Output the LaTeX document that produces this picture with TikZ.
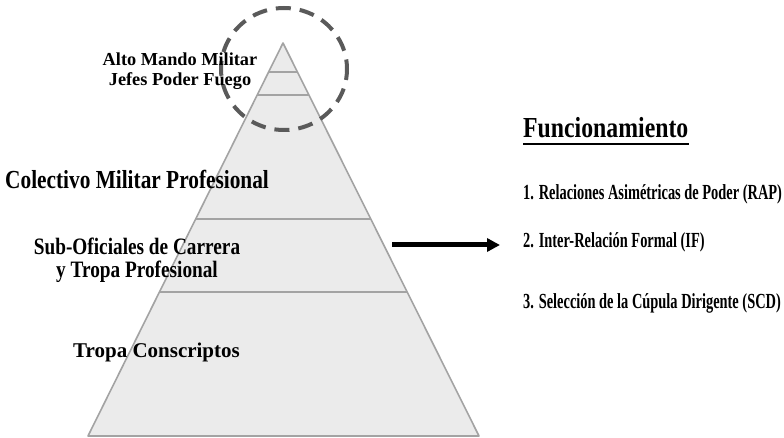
\documentclass[tikz,border=0pt]{standalone}
\usepackage{fontspec}
\setmainfont{Liberation Serif}
\newfontfamily\narrowfont{Liberation Serif}[FakeStretch=0.82]
\newfontfamily\listfont{Liberation Serif}[FakeStretch=0.67]
\usetikzlibrary{calc,arrows.meta}

\definecolor{pyrfill}{HTML}{EBEBEB}
\definecolor{pyrline}{HTML}{A3A3A3}
\definecolor{ringgray}{HTML}{5A5A5A}

\begin{document}
\begin{tikzpicture}[x=1pt, y=-1pt,
  layer/.style={draw=pyrline, line width=1.6pt},
  caption/.style={anchor=base west, inner sep=0pt, font=\narrowfont\bfseries},
  listentry/.style={caption, font=\listfont\bfseries\fontsize{21.5}{22}\selectfont}]
  \useasboundingbox (0,0) rectangle (784,438);

  % pyramid
  \coordinate (apex) at (283,43);
  \coordinate (bl) at (88,436);
  \coordinate (br) at (479,436);
  \draw[layer, fill=pyrfill, line join=round] (apex)--(br)--(bl)--cycle;

  % pyramid levels
  \foreach \h/\name in {29/lvla, 52/lvlb, 176/lvlc, 249/lvld}
    \draw[layer] ($(apex)!{\h/393}!(bl)$) coordinate (\name l) -- ($(apex)!{\h/393}!(br)$) coordinate (\name r);

  % top ring
  \draw[ringgray, line width=4pt, dash pattern=on 15pt off 9pt, dash phase=4pt]
    (284,69) ellipse [x radius=63, y radius=61];

  % level labels
  \node[anchor=base, inner sep=0pt, align=center, font=\bfseries\fontsize{18.3}{20}\selectfont]
    (alto) at (180,86) {Alto Mando Militar\\Jefes Poder Fuego};
  \node[caption, font=\narrowfont\bfseries\fontsize{26}{23}\selectfont] (colectivo) at (5,189) {Colectivo Militar Profesional};
  \node[anchor=base, inner sep=0pt, align=center, font=\narrowfont\bfseries\fontsize{23.5}{23}\selectfont]
    (suboficiales) at (137,278) {Sub-Oficiales de Carrera\\y Tropa Profesional};
  \node[caption, font=\bfseries\fontsize{21}{24}\selectfont] (tropa) at (73,357) {Tropa Conscriptos};

  % function list
  \node[caption, font=\narrowfont\bfseries\fontsize{29}{32}\selectfont] (titulo) at (523,138) {Funcionamiento};
  \draw[line width=1.8pt] ($(titulo.base west)+(0,6)$) -- ($(titulo.base east)+(0,6)$);
  \node[listentry] (rap) at (523,200) {1. Relaciones Asimétricas de Poder (RAP)};
  \node[listentry] (if) at (523,248) {2. Inter-Relación Formal (IF)};
  \node[listentry] (scd) at (523,308) {3. Selección de la Cúpula Dirigente (SCD)};

  % arrow
  \coordinate (from) at (392,245);
  \coordinate (to) at (500,245);
  \draw[line width=5pt, -{Triangle[length=13pt, width=13pt]}] (from) -- (to);

\end{tikzpicture}
\end{document}
